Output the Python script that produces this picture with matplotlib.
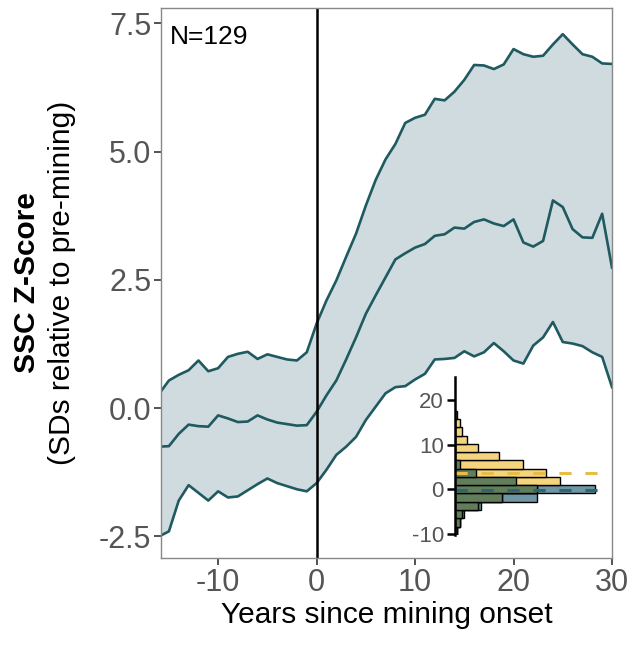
import numpy as np
import matplotlib
matplotlib.use("Agg")
import matplotlib.pyplot as plt

plt.rcParams['font.family'] = ['Liberation Sans', 'DejaVu Sans']
plt.rcParams['axes.unicode_minus'] = False

# main series: SSC z-score percentiles by year since mining onset
years = list(range(-16, 31))
upper = [0.28, 0.54, 0.65, 0.74, 0.93, 0.72, 0.78, 1.00, 1.06, 1.10, 0.96, 1.05, 1.00, 0.95, 0.93, 1.09,
         1.65, 2.10, 2.49, 2.95, 3.40, 3.95, 4.45, 4.85, 5.15, 5.56, 5.66, 5.72, 6.03, 6.00, 6.17, 6.40,
         6.69, 6.68, 6.61, 6.70, 7.00, 6.90, 6.85, 6.87, 7.09, 7.29, 7.09, 6.90, 6.85, 6.72, 6.71]
median = [-0.75, -0.74, -0.50, -0.32, -0.35, -0.36, -0.14, -0.20, -0.27, -0.26, -0.14, -0.22, -0.28, -0.31, -0.34, -0.33,
          -0.07, 0.25, 0.54, 0.95, 1.38, 1.84, 2.20, 2.55, 2.90, 3.02, 3.13, 3.20, 3.36, 3.39, 3.52, 3.50,
          3.63, 3.68, 3.60, 3.55, 3.68, 3.23, 3.15, 3.26, 4.05, 3.92, 3.49, 3.33, 3.32, 3.79, 2.74]
lower = [-2.50, -2.40, -1.80, -1.50, -1.65, -1.80, -1.62, -1.74, -1.72, -1.60, -1.48, -1.37, -1.46, -1.52, -1.58, -1.62,
         -1.46, -1.20, -0.91, -0.75, -0.56, -0.23, 0.03, 0.29, 0.41, 0.43, 0.56, 0.67, 0.95, 0.96, 0.98, 1.11,
         1.01, 1.09, 1.27, 1.11, 0.93, 0.87, 1.22, 1.38, 1.68, 1.29, 1.26, 1.21, 1.09, 1.00, 0.41]

# inset histogram (pre vs post mining z-scores)
bin_width = 1.85
bin_centers = np.arange(-5, 10) * bin_width
post_counts = [1, 2, 3, 10, 20, 35, 45, 39, 29, 19, 10, 5, 3, 2, 1]
pre_counts = [1, 2, 4, 11, 35, 60, 26, 9, 2, 0, 0, 0, 0, 0, 0]
pre_mean = -0.1
post_mean = 3.6

line_col = "#1e5a60"
fill_col = "#cfdbde"

fig = plt.figure(figsize=(6.31, 6.46), dpi=100)
ax = fig.add_axes([0.2552, 0.1362, 0.7147, 0.8514])

ax.fill_between(years, lower, upper, color=fill_col, lw=0)
for s in [upper, median, lower]:
    ax.plot(years, s, color=line_col, lw=1.9)
ax.axvline(0, color="black", lw=1.8)

ax.set_xlim(-15.8, 30)
ax.set_ylim(-2.92, 7.80)
ax.set_xticks([-10, 0, 10, 20, 30])
ax.set_yticks([-2.5, 0, 2.5, 5.0, 7.5])
ax.set_yticklabels(["-2.5", "0.0", "2.5", "5.0", "7.5"])
ax.tick_params(labelsize=22, labelcolor="#555555", color="#333333", length=5, width=1.2, pad=2)
for sp in ax.spines.values():
    sp.set_color("#888888")
    sp.set_linewidth(1.0)

ax.set_xlabel("Years since mining onset", fontsize=21.5, labelpad=2)
ax.text(0.02, 0.97, "N=129", transform=ax.transAxes, fontsize=19, va="top", ha="left")

fig.text(27 / 631, 0.562, "SSC Z-Score", rotation=90, fontsize=21.5, fontweight="bold",
         ha="center", va="center")
fig.text(62 / 631, 0.562, "(SDs relative to pre-mining)", rotation=90, fontsize=21.5,
         ha="center", va="center")

# inset
ins = fig.add_axes([455 / 631, 1 - 535 / 646, 144 / 631, 158 / 646])
ins.set_facecolor("none")
ins.barh(bin_centers, pre_counts, height=bin_width, color="#6e96a4", edgecolor="black", lw=1)
ins.barh(bin_centers, post_counts, height=bin_width, color="#f4d47d", edgecolor="black", lw=1)
overlap = np.minimum(pre_counts, post_counts)
ins.barh(bin_centers, overlap, height=bin_width, color="#627d5a", edgecolor="black", lw=1)
ins.axhline(post_mean, color="#e8bd45", lw=2.2, dashes=(4, 4.5))
ins.axhline(pre_mean, color="#2b6677", lw=2.2, dashes=(4, 4.5))
ins.set_xlim(0, 61.5)
ins.set_ylim(-10.2, 25.1)
ins.set_yticks([-10, 0, 10, 20])
ins.set_xticks([])
for k in ["top", "right", "bottom"]:
    ins.spines[k].set_visible(False)
ins.spines["left"].set_linewidth(1.8)
ins.tick_params(axis="y", labelsize=16, labelcolor="#555555", length=6, width=1.8, pad=2)

fig.savefig("out.png", dpi=100)
